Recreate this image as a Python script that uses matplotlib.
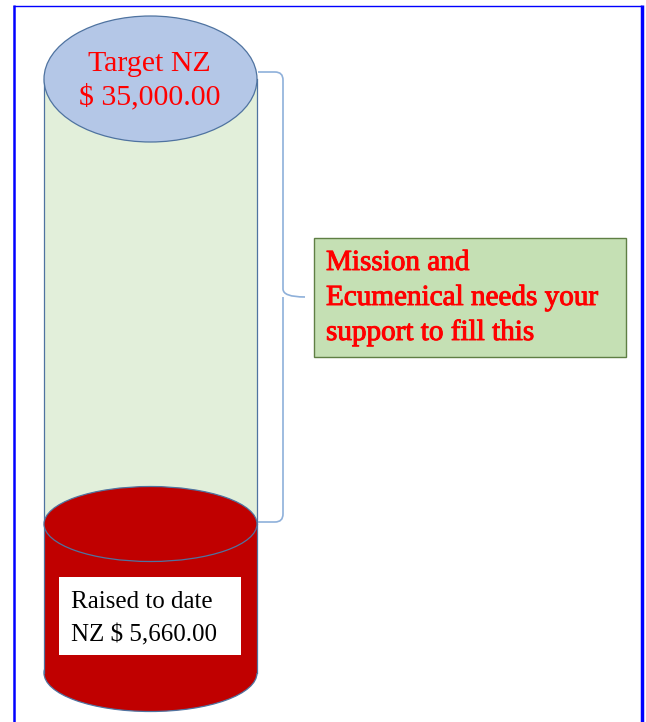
import matplotlib
matplotlib.use("Agg")
import matplotlib.pyplot as plt
import matplotlib.patheffects as pe
from matplotlib.patches import Ellipse, Rectangle, PathPatch
from matplotlib.path import Path

target_label = ["Target NZ", "$ 35,000.00"]
raised_label = ["Raised to date", "NZ $ 5,660.00"]
callout_label = ["Mission and", "Ecumenical needs your", "support to fill this"]
target_value = 35000.00
raised_value = 5660.00

W, H = 646, 722
fig = plt.figure(figsize=(W / 100, H / 100), dpi=100)
ax = fig.add_axes([0, 0, 1, 1])
ax.set_xlim(0, W)
ax.set_ylim(H, 0)
ax.axis("off")

serif = ["Liberation Serif", "DejaVu Serif"]
edge = "#4f73a0"

# frame
ax.plot([14, 14], [5, H], color="#0000ff", lw=1.8, solid_capstyle="butt")
ax.plot([14, 641], [5.5, 5.5], color="#0000ff", lw=1.0)
ax.plot([641.5, 641.5], [5, H], color="#0000ff", lw=2.5, solid_capstyle="butt")

xl, xr = 44, 257
cx = (xl + xr) / 2
w = xr - xl

# green (empty) cylinder body
ax.add_patch(Rectangle((xl, 79), w, 524 - 79, facecolor="#e2efda", edgecolor="none", zorder=1))
ax.plot([xl, xl], [79, 524], color=edge, lw=0.9, zorder=2)
ax.plot([xr, xr], [79, 524], color=edge, lw=0.9, zorder=2)

# red (raised) cylinder
ax.add_patch(Rectangle((xl, 524), w, 673 - 524, facecolor="#c00000", edgecolor="none", zorder=3))
ax.add_patch(Ellipse((cx, 673), w, 77, facecolor="#c00000", edgecolor=edge, lw=0.9, zorder=2.9))
ax.plot([xl, xl], [524, 673], color=edge, lw=0.9, zorder=4)
ax.plot([xr, xr], [524, 673], color=edge, lw=0.9, zorder=4)
ax.add_patch(Ellipse((cx, 524), w, 75, facecolor="#c00000", edgecolor=edge, lw=0.9, zorder=5))

# top ellipse
ax.add_patch(Ellipse((cx, 79), w, 126, facecolor="#b4c7e7", edgecolor=edge, lw=0.9, zorder=6))
ax.text(cx - 1, 71, target_label[0], color="#ff0000", fontsize=21.5, family=serif,
        ha="center", va="baseline", zorder=7)
ax.text(cx - 1, 104, target_label[1], color="#ff0000", fontsize=21.5, family=serif,
        ha="center", va="baseline", zorder=7)

# raised box
ax.add_patch(Rectangle((59, 577), 182, 78, facecolor="white", edgecolor="none", zorder=7))
ax.text(71, 608, raised_label[0], color="black", fontsize=18, family=serif,
        ha="left", va="baseline", zorder=8)
ax.text(71, 641, raised_label[1], color="black", fontsize=18, family=serif,
        ha="left", va="baseline", zorder=8)

# bracket
bx0, bx1, tip = 258, 283, 305
yt, ym, yb = 72, 297, 522
r = 8
v = [(bx0, yt), (bx1 - r, yt), (bx1, yt), (bx1, yt + r),
     (bx1, ym - r), (bx1, ym), (tip, ym),
     (bx1, ym), (bx1, ym + r), (bx1, ym + r),
     (bx1, yb - r), (bx1, yb), (bx1 - r, yb), (bx0, yb)]
c = [Path.MOVETO, Path.LINETO, Path.CURVE3, Path.CURVE3,
     Path.LINETO, Path.CURVE3, Path.CURVE3,
     Path.MOVETO, Path.CURVE3, Path.CURVE3,
     Path.LINETO, Path.CURVE3, Path.CURVE3, Path.LINETO]
ax.add_patch(PathPatch(Path(v, c), facecolor="none", edgecolor="#8eb0da", lw=1.2, zorder=2))

# callout box
ax.add_patch(Rectangle((314, 238), 312, 119, facecolor="#c5e0b4", edgecolor="#5f7f44", lw=1.0, zorder=3))
for i, line in enumerate(callout_label):
    ax.text(326, 270 + 35 * i, line, color="#ff0000", fontsize=21, family=serif,
            ha="left", va="baseline", zorder=4,
            path_effects=[pe.withStroke(linewidth=0.7, foreground="#ff0000")])

fig.savefig("out.png", dpi=100)
